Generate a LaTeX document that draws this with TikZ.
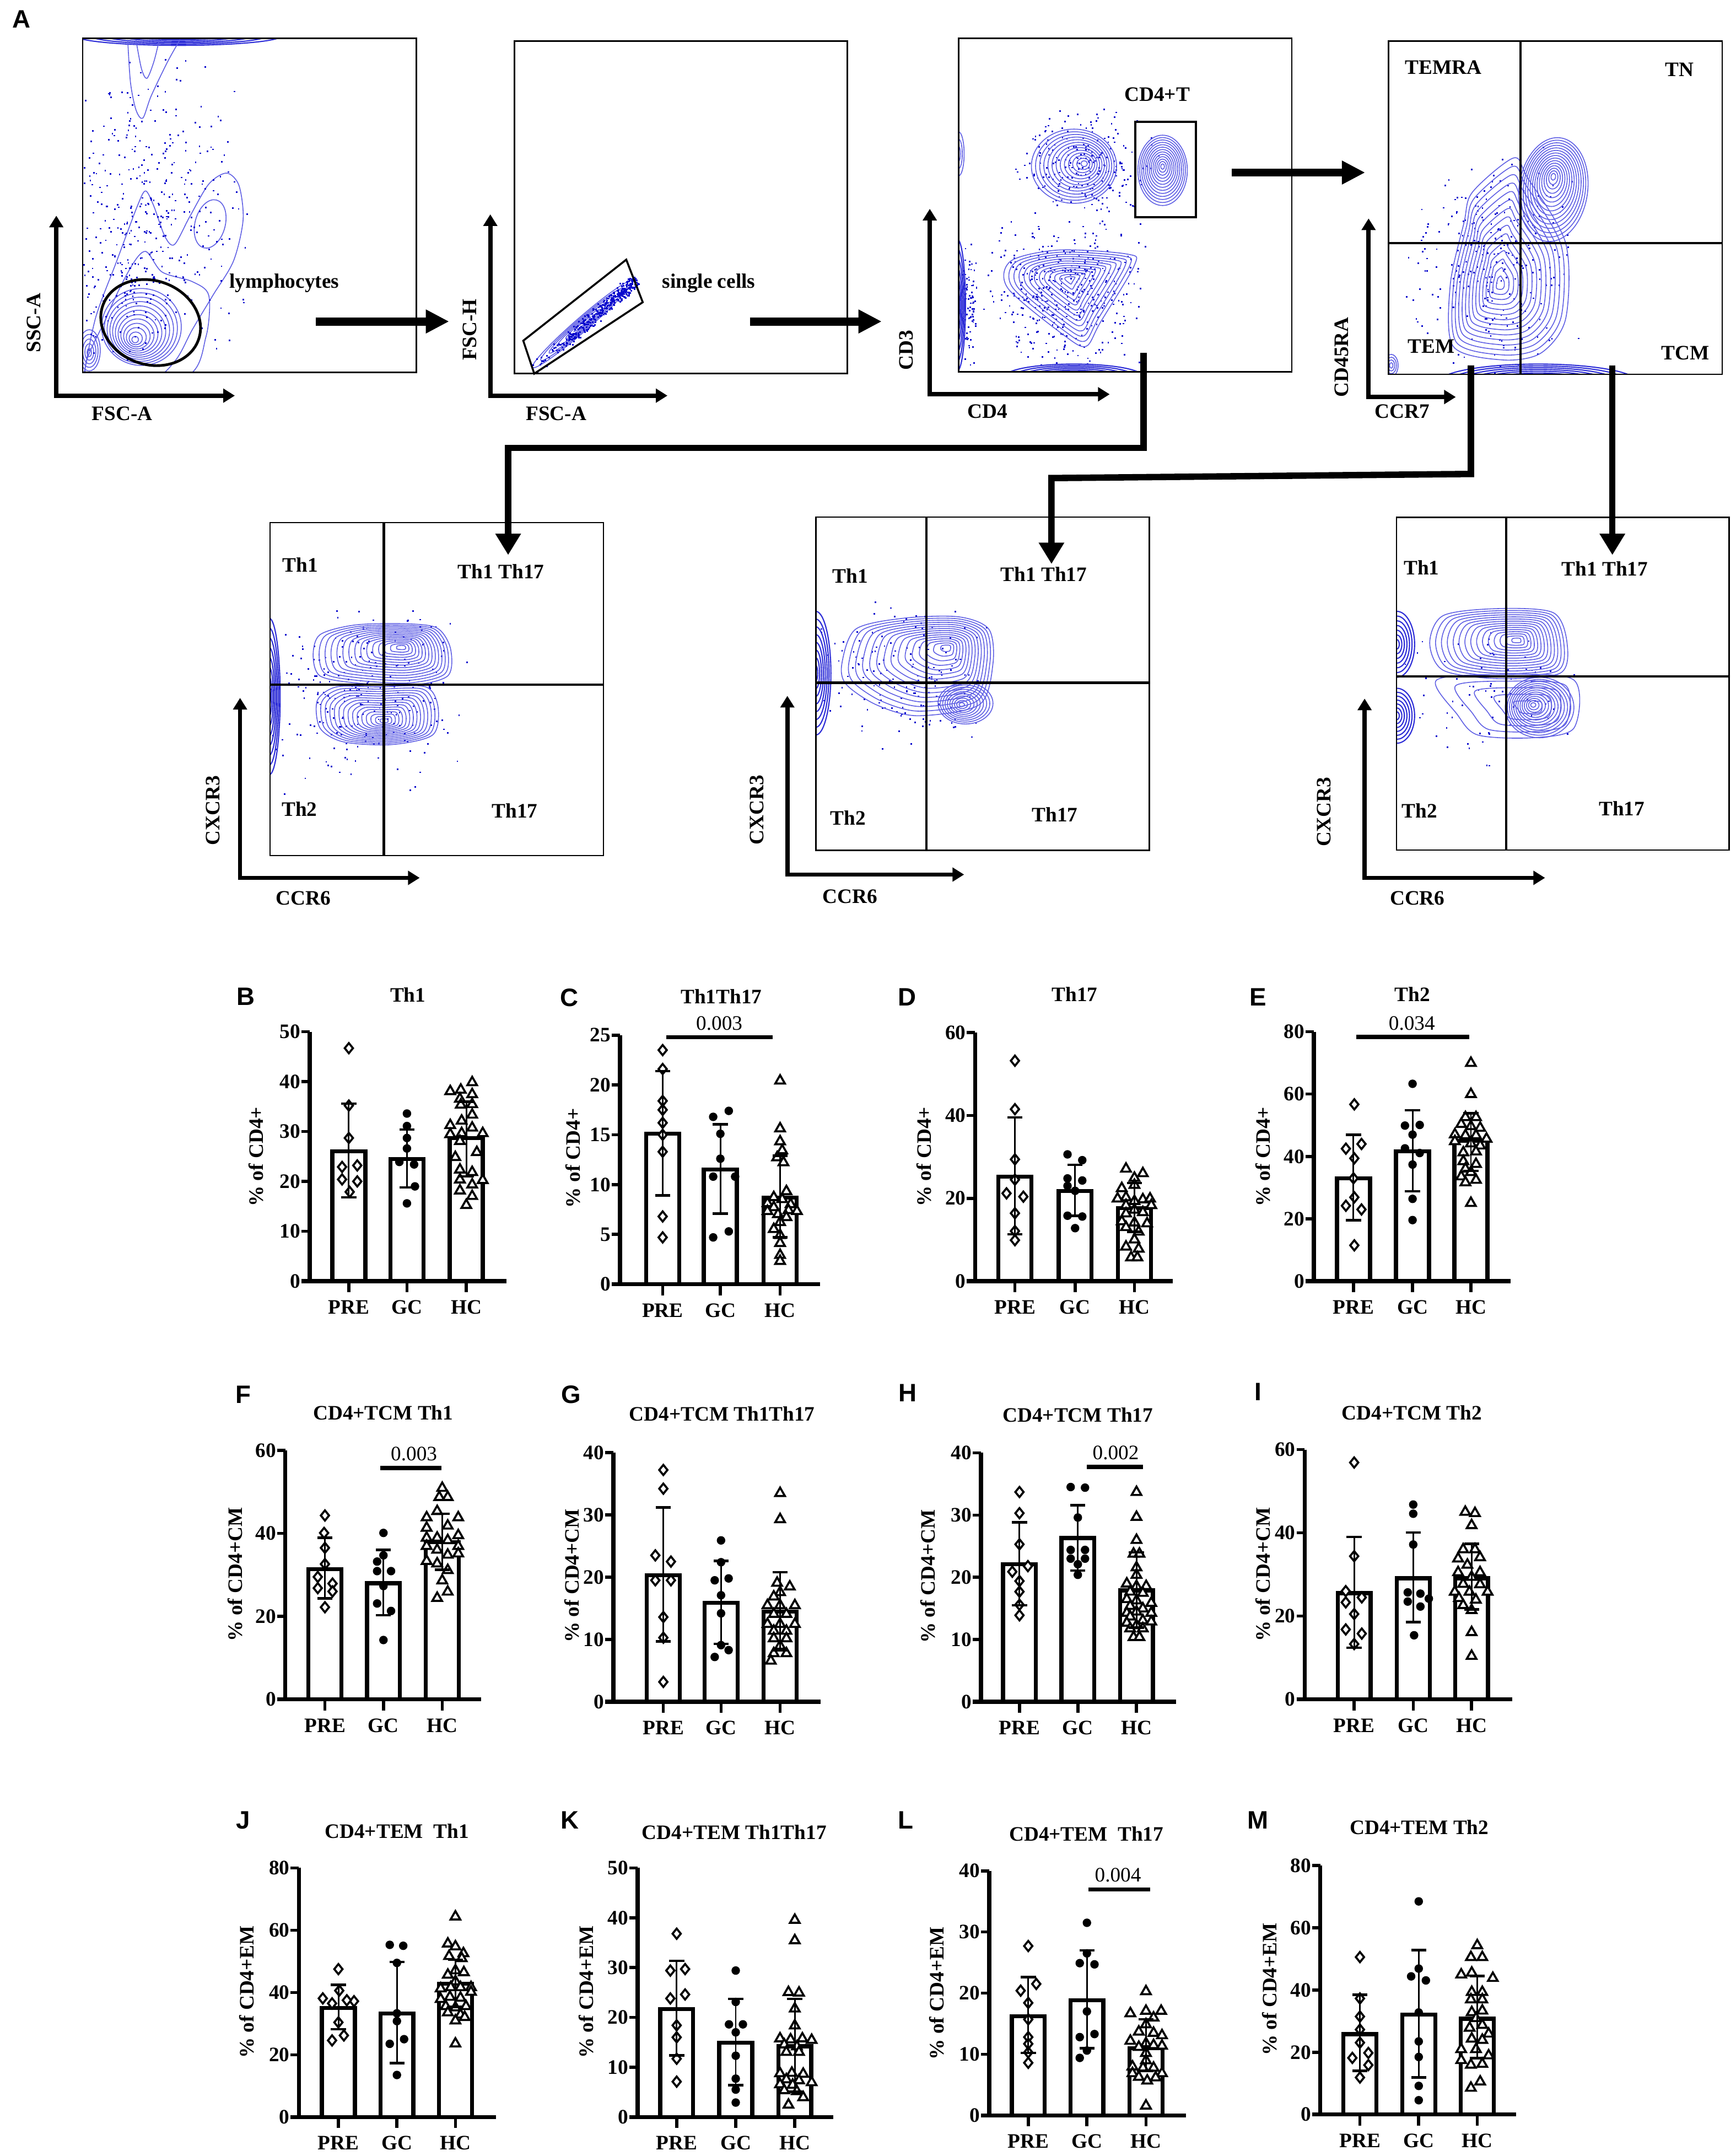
\documentclass[tikz,border=0pt]{standalone}
\usepackage{fontspec}
\setmainfont{Liberation Serif}
\newfontfamily\lsans{Liberation Sans}
\usetikzlibrary{arrows.meta}
\definecolor{cblue}{RGB}{95,95,228}
\definecolor{dblue}{RGB}{45,45,215}
\definecolor{dotc}{RGB}{10,10,205}
\tikzset{
 lab/.style={font=\bfseries\fontsize{10.6}{12}\selectfont, inner sep=0pt},
 pv/.style={font=\fontsize{10.6}{12}\selectfont, inner sep=0pt},
 plet/.style={font=\lsans\bfseries\fontsize{13}{15}\selectfont, inner sep=0pt},
 fbox/.style={draw, line width=0.8pt},
 quad/.style={line width=1.2pt},
 fax/.style={line width=2.2pt, line join=miter, {Triangle[length=6pt,width=7pt]}-{Triangle[length=6pt,width=7pt]}},
 bigarr/.style={line width=4.2pt, -{Triangle[length=12pt,width=11.5pt]}},
 conn/.style={line width=3.3pt, line join=miter, -{Triangle[length=11pt,width=12.5pt]}},
 cline/.style={draw=cblue, line width=0.45pt},
 dline/.style={draw=dblue, line width=0.6pt},
 barst/.style={draw, line width=2.1pt, fill=white},
 baxis/.style={line width=2.1pt},
 btick/.style={line width=1.6pt},
 ebst/.style={line width=0.85pt},
 ecap/.style={line width=1.3pt},
 sig/.style={line width=2.1pt},
 mk/.style={draw, line width=1.05pt, fill=white},
 mdia/.pic={\draw[mk] (0,-3.7) -- (3,0) -- (0,3.7) -- (-3,0) -- cycle;},
 mdot/.pic={\fill (0,0) circle (3.1);},
 mtri/.pic={\draw[mk, line join=miter] (0,-3.5) -- (3.5,2.6) -- (-3.5,2.6) -- cycle;},
}
% contour helpers
\newcommand\rings[8]{%
 \foreach \ri in {0,...,#5}{%
  \pgfmathsetmacro\rf{1-\ri/(#5+1)}%
  \pgfmathsetmacro\rcx{#1+(#7)*(1-\rf)}%
  \pgfmathsetmacro\rcy{#2+(#8)*(1-\rf)}%
  \draw[cline, rotate around={#6:(\rcx,\rcy)}] (\rcx,\rcy) ellipse [x radius={#3*\rf}, y radius={#4*\rf}];
 }}
\newcommand\drings[5]{%
 \foreach \ri in {0,...,#5}{%
  \pgfmathsetmacro\rf{1-\ri/(#5+1)}%
  \draw[dline] (#1,#2) ellipse [x radius={#3*\rf}, y radius={#4*\rf}];
 }}
\newcommand\blob[6]{%
 \foreach \ri in {0,...,#3}{%
  \pgfmathsetmacro\rf{1-\ri/(#3+1)}%
  \pgfmathsetmacro\rcx{#1+(#4)*(1-\rf)}%
  \pgfmathsetmacro\rcy{#2+(#5)*(1-\rf)}%
  \begin{scope}[shift={(\rcx,\rcy)}, scale=\rf]
   \draw[cline] plot[smooth cycle] coordinates {#6};
  \end{scope}}}
\newcommand\scat[6]{%
 \pgfmathsetseed{#6}%
 \foreach \ri in {1,...,#5}{%
  \pgfmathsetmacro\px{#1+(#3)*(rand+rand)/2}%
  \pgfmathsetmacro\py{#2+(#4)*(rand+rand)/2}%
  \fill[dotc] (\px,\py) rectangle ++(1.1,1.1);}}
% bar chart helpers
\newcommand\setpanel[4]{\def\AX{#1}\def\YZ{#2}\pgfmathsetmacro\PPU{(#2-#3)/#4}}
\newcommand\bbar[2]{\draw[barst] ({#1-12},\YZ) rectangle ({#1+12},{\YZ-\PPU*#2});}
\newcommand\errb[3]{%
 \draw[ebst] (#1,{\YZ-\PPU*#2}) -- (#1,{\YZ-\PPU*#3});
 \draw[ecap] ({#1-5.5},{\YZ-\PPU*#2}) -- ({#1+5.5},{\YZ-\PPU*#2});
 \draw[ecap] ({#1-5.5},{\YZ-\PPU*#3}) -- ({#1+5.5},{\YZ-\PPU*#3});}
\newcommand\pts[3]{\foreach \dx/\v in {#3}{\pic at ({#1+0.307*(\dx)},{\YZ-\PPU*\v}) {#2};}}
\newcommand\drawaxes[4]{%
 \draw[baxis] ({\AX-6},\YZ) -- (#4,\YZ);
 \draw[baxis] (\AX,{\YZ-\PPU*#2}) -- (\AX,\YZ);
 \foreach \t in {0,#3,...,#2}{%
  \draw[btick] ({\AX-6},{\YZ-\PPU*\t}) -- (\AX,{\YZ-\PPU*\t});
  \node[lab, anchor=east] (#1t\t) at ({\AX-6.5},{\YZ-\PPU*\t}) {\t};}}
\newcommand\xcat[3]{%
 \draw[btick] (#2,\YZ) -- (#2,{\YZ+8});
 \node[lab] (#1) at (#2,{\YZ+19}) {#3};}
\begin{document}
\begin{tikzpicture}[x=0.024921cm,y=-0.024921cm]
\fill[white] (0,0) rectangle (1264,1569.4);
\useasboundingbox (0,0) rectangle (1264,1569.4);
\node[plet] (A) at (15.6,14) {A};

% ================= Plot 1 =================
\begin{scope}
\clip (60.2,28) rectangle (303,271);
\drings{130}{26}{75}{7}{6}
\draw[cline] plot[smooth] coordinates {(93,29) (95,60) (99,80) (104,86) (110,70) (122,45) (131,29)};
\draw[cline] plot[smooth] coordinates {(99,29) (103,50) (107,57) (112,45) (116,29)};
\draw[cline] plot[smooth cycle] coordinates {(62,268) (70,230) (85,190) (100,150) (106,139) (112,150) (120,172) (127,178) (138,158) (152,134) (165,126) (174,135) (177,160) (170,190) (155,215) (140,240) (128,262) (110,276) (62,276)};
\draw[cline] plot[smooth cycle] coordinates {(64,274) (78,230) (95,195) (106,183) (118,198) (140,205) (152,215) (150,245) (135,274)};
\draw[cline, rotate around={-15:(153,163)}] (153,163) ellipse [x radius=11, y radius=18];
\rings{103}{238}{29}{28}{11}{0}{-5}{10}
\rings{65}{255}{8}{15}{4}{0}{0}{2}
\scat{112}{150}{72}{112}{340}{1}
\scat{92}{205}{40}{60}{110}{2}
\end{scope}
\draw[fbox] (60.2,28) rectangle (303,271);
\draw[line width=1.4pt, rotate around={-20:(109.7,234.8)}] (109.7,234.8) ellipse [x radius=37, y radius=30.5];
\node[lab] (lym) at (207,206) {lymphocytes};
\draw[fax] (41,157) -- (41,288) -- (171,288);
\node[lab, rotate=90] (ssc) at (24.6,235) {SSC-A};
\node[lab] (fsc1) at (89,301) {FSC-A};

% ================= Plot 2 =================
\begin{scope}
\clip (374.5,30) rectangle (617,272);
\rings{424}{236}{48}{5}{5}{41}{0}{0}
\pgfmathsetseed{7}
\foreach \ri in {1,...,380}{%
 \pgfmathsetmacro\bt{sqrt(rnd)}%
 \pgfmathsetmacro\bs{6*(rand+rand)/2}%
 \pgfmathsetmacro\px{388+75*\bt+0.655*\bs}%
 \pgfmathsetmacro\py{268-65*\bt+0.756*\bs}%
 \fill[dotc] (\px,\py) rectangle ++(1.2,1.2);}
\end{scope}
\draw[fbox] (374.5,30) rectangle (617,272);
\draw[line width=1pt] (381,248) -- (456,189) -- (468,220) -- (389,272) -- cycle;
\node[lab] (sgl) at (516,206) {single cells};
\draw[fax] (357,156) -- (357,288) -- (486,288);
\node[lab, rotate=90] (fsch) at (342,240) {FSC-H};
\node[lab] (fsc2) at (405,301) {FSC-A};

% ================= Plot 3 =================
\begin{scope}
\clip (698,28) rectangle (940.6,270.5);
\scat{775}{210}{65}{60}{380}{3}
\scat{790}{120}{55}{45}{220}{4}
\scat{705}{222}{8}{50}{80}{5}
\rings{782}{121}{31}{27}{12}{0}{8}{-2}
\rings{846.5}{124}{18}{25.6}{12}{0}{0}{-3}
\blob{776}{205}{12}{3}{-2}{(-42,5) (-40,-15) (-5,-23) (45,-20) (50,-12) (25,30) (15,47) (0,40)}
\drings{697}{222}{6}{48}{6}
\rings{698}{112}{4}{16}{2}{0}{0}{0}
\drings{782}{274}{50}{9}{7}
\end{scope}
\draw[fbox] (698,28) rectangle (940.6,270.5);
\draw[line width=1pt] (826.6,88.7) rectangle (870.8,158);
\node[lab] (cd4t) at (842.6,68.7) {CD4+T};
\draw[fax] (677,152) -- (677,287) -- (808,287);
\node[lab, rotate=90] (cd3) at (660,255) {CD3};
\node[lab] (cd4) at (719,299.5) {CD4};

% ================= Plot 4 =================
\begin{scope}
\clip (1011,30) rectangle (1254,272.5);
\scat{1085}{190}{65}{90}{250}{6}
\rings{1131}{138}{25}{38}{14}{-8}{0}{-10}
\blob{1094}{207}{14}{-2}{0}{(-36,45) (-38,0) (-28,-45) (-22,-67) (8,-92) (18,-78) (46,-30) (46,25) (28,50) (0,55)}
\drings{1120}{278}{72}{13}{9}
\rings{1013}{266}{5}{8}{3}{0}{0}{0}
\end{scope}
\draw[fbox] (1011,30) rectangle (1254,272.5);
\draw[quad] (1107,30) -- (1107,272.5);
\draw[quad] (1011,177) -- (1254,177);
\node[lab] (temra) at (1051,49) {TEMRA};
\node[lab] (tn) at (1223,50.6) {TN};
\node[lab] (tem) at (1042,252) {TEM};
\node[lab] (tcm) at (1227,257) {TCM};
\draw[fax] (996.5,159) -- (996.5,289) -- (1060,289);
\node[lab, rotate=90] (cd45) at (977,260) {CD45RA};
\node[lab] (ccr7) at (1021,299.5) {CCR7};

% ================= Plot 5 =================
\begin{scope}
\clip (196.6,380.4) rectangle (439.4,622.8);
\scat{265}{505}{80}{75}{250}{8}
\drings{196}{507}{8}{57}{7}
\blob{278}{477}{14}{15}{-6}{(-50,0) (-45,-15) (-20,-22) (15,-23) (40,-20) (50,-5) (48,15) (20,22) (-20,20) (-45,15)}
\blob{275}{520}{14}{5}{5}{(-44,-10) (-30,-20) (0,-20) (35,-20) (44,-5) (40,15) (10,22) (-25,20) (-42,10)}
\end{scope}
\draw[fbox] (196.6,380.4) rectangle (439.4,622.8);
\draw[quad] (279.5,380.4) -- (279.5,622.8);
\draw[quad] (196.6,498.4) -- (439.4,498.4);
\node[lab] (p5a) at (218.7,411) {Th1};
\node[lab] (p5b) at (364.8,416) {Th1 Th17};
\node[lab] (p5c) at (218,588.7) {Th2};
\node[lab] (p5d) at (374.8,590) {Th17};
\draw[fax] (174.8,508) -- (174.8,639) -- (305.6,639);
\node[lab, rotate=90] (p5y) at (155,590) {CXCR3};
\node[lab] (p5x) at (220.7,653.7) {CCR6};

% ================= Plot 6 =================
\begin{scope}
\clip (594,376.4) rectangle (836.7,619);
\scat{655}{495}{70}{60}{150}{9}
\drings{594}{490}{11}{45}{7}
\blob{668}{483}{14}{22}{-12}{(-55,0) (-45,-25) (-10,-33) (30,-34) (52,-25) (55,0) (45,30) (0,38) (-30,30) (-52,15)}
\rings{703}{512}{20}{15}{9}{0}{-3}{1}
\end{scope}
\draw[fbox] (594,376.4) rectangle (836.7,619);
\draw[quad] (674.5,376.4) -- (674.5,619);
\draw[quad] (594,497) -- (836.7,497);
\node[lab] (p6a) at (619,419) {Th1};
\node[lab] (p6b) at (760,418) {Th1 Th17};
\node[lab] (p6c) at (617.4,595.5) {Th2};
\node[lab] (p6d) at (768,593) {Th17};
\draw[fax] (573.3,506.5) -- (573.3,636.6) -- (702,636.6);
\node[lab, rotate=90] (p6y) at (551,589.5) {CXCR3};
\node[lab] (p6x) at (619,652.7) {CCR6};

% ================= Plot 7 =================
\begin{scope}
\clip (1016.8,376.6) rectangle (1259,618.8);
\scat{1085}{500}{70}{60}{70}{10}
\drings{1017}{469}{13}{24}{6}
\drings{1017}{521}{13}{20}{6}
\blob{1091}{468}{14}{14}{-2}{(-50,0) (-40,-20) (0,-25) (40,-22) (50,0) (45,22) (0,26) (-40,20)}
\blob{1096}{515}{4}{20}{0}{(-50,-20) (-35,5) (-20,20) (20,22) (50,15) (50,-20) (0,-24)}
\rings{1121}{515}{25}{22}{12}{0}{-5}{-2}
\end{scope}
\draw[fbox] (1016.8,376.6) rectangle (1259,618.8);
\draw[quad] (1096.7,376.6) -- (1096.7,618.8);
\draw[quad] (1016.8,492.3) -- (1259,492.3);
\node[lab] (p7a) at (1035,413) {Th1};
\node[lab] (p7b) at (1168.5,414) {Th1 Th17};
\node[lab] (p7c) at (1033.7,590) {Th2};
\node[lab] (p7d) at (1180.8,588.6) {Th17};
\draw[fax] (993.6,508.5) -- (993.6,639) -- (1125,639);
\node[lab, rotate=90] (p7y) at (964,591) {CXCR3};
\node[lab] (p7x) at (1032,654) {CCR6};

% ================= arrows and connectors =================
\coordinate (a1s) at (230,234); \coordinate (a1e) at (327,234);
\coordinate (a2s) at (546,234); \coordinate (a2e) at (642,234);
\coordinate (a3s) at (897,125.6); \coordinate (a3e) at (994,125.6);
\draw[bigarr] (a1s) -- (a1e);
\draw[bigarr] (a2s) -- (a2e);
\draw[bigarr] (a3s) -- (a3e);
\coordinate (k1a) at (832.6,257); \coordinate (k1b) at (832.6,326);
\coordinate (k1c) at (370,326); \coordinate (k1d) at (370,404);
\draw[conn] (k1a) -- (k1b) -- (k1c) -- (k1d);
\coordinate (k2a) at (1071,266); \coordinate (k2b) at (1071,345);
\coordinate (k2c) at (765.6,348); \coordinate (k2d) at (765.6,410.5);
\draw[conn] (k2a) -- (k2b) -- (k2c) -- (k2d);
\coordinate (k3a) at (1174,266); \coordinate (k3b) at (1174,404);
\draw[conn] (k3a) -- (k3b);

% ================= B =================
\setpanel{225.5}{932.6}{751}{50}
\bbar{254}{26.0}\bbar{296.3}{24.45}\bbar{339.5}{28.7}
\pts{254}{mdia}{0/46.7,0/35.2,0/28.7,-16/22.9,20/23.2,-16/20.4,20/20.0,2/17.9}
\pts{296.3}{mdot}{0/33.6,0/31.1,0/28.7,0/26.6,-18/23.9,17/23.4,19/19.0,0/15.6}
\pts{339.5}{mtri}{-38/38.2,-13/38.5,14/40.0,-15/36.7,14/37.6,-13/35.5,14/35.6,-11/32.3,-38/31.4,14/33.5,-38/29.6,-11/29.8,39/29.8,14/30.9,-15/28.2,-26/25.0,25/26.0,-15/22.5,14/22.0,-15/20.5,39/20.4,14/19.5,-15/18.3,14/17.2,0/15.4}
\errb{254}{16.8}{35.6}\errb{296.3}{18.8}{30.4}\errb{339.5}{21.0}{36.0}
\drawaxes{B}{50}{10}{368.8}
\xcat{BPRE}{254}{PRE}\xcat{BGC}{296.3}{GC}\xcat{BHC}{339.5}{HC}
\node[plet] (Bl) at (179,725.5) {B};
\node[lab] (Bti) at (297,724) {Th1};
\node[lab, rotate=90] (By) at (186.6,842) {\% of CD4+};

% ================= C =================
\setpanel{451.4}{934.8}{753.5}{25}
\bbar{482.5}{15.1}\bbar{524.5}{11.5}\bbar{568}{8.7}
\pts{482.5}{mdia}{0/23.5,0/21.6,0/18.4,0/17.5,0/16.2,0/15.0,0/13.3,0/6.8,0/4.7}
\pts{524.5}{mdot}{-17/16.8,20/17.4,0/15.1,0/12.6,-17/10.8,35/10.8,-17/4.7,20/5.3}
\pts{568}{mtri}{0/20.5,0/15.7,0/14.4,5/13.5,-7/12.8,8/12.3,15/9.4,-15/8.8,5/8.6,-30/8.2,25/8.1,-15/7.8,20/7.5,-30/7.4,40/7.4,-5/7.1,15/6.8,0/6.3,-15/5.6,0/5.0,0/4.2,0/3.0,0/2.4}
\errb{482.5}{8.9}{21.4}\errb{524.5}{7.1}{16.05}\errb{568}{4.7}{12.9}
\drawaxes{C}{25}{5}{597}
\xcat{CPRE}{482.5}{PRE}\xcat{CGC}{524.5}{GC}\xcat{CHC}{568}{HC}
\draw[sig] (485,755.1) -- (562.6,755.1);
\node[pv] (Cp) at (523.7,745) {0.003};
\node[plet] (Cl) at (414.7,726.3) {C};
\node[lab] (Cti) at (525.2,725.5) {Th1Th17};
\node[lab, rotate=90] (Cy) at (417,843) {\% of CD4+};

% ================= D =================
\setpanel{710}{932.6}{751.6}{60}
\bbar{739}{25.2}\bbar{782.8}{21.8}\bbar{826}{17.6}
\pts{739}{mdia}{0/53.2,0/41.5,0/29.4,0/24.5,-20/21.2,20/20.4,0/16.4,0/12.1,0/9.9}
\pts{782.8}{mdot}{-18/30.6,17/29.2,-18/24.8,17/24.3,-18/23.0,0/21.8,-18/15.8,17/15.6,0/12.8}
\pts{826}{mtri}{-20/27.3,20/26.2,0/25.1,0/23.4,-30/22.6,-20/20.4,20/19.9,-40/20.1,37/20.1,0/19.5,-20/18.5,40/18.5,0/17.4,20/16.8,-20/16.5,-30/14.6,0/14.3,30/14.1,-20/13.2,10/12.1,0/10.2,-20/8.5,10/8.0,-8/5.9,7/5.9}
\errb{739}{11.3}{39.5}\errb{782.8}{15.8}{28.1}\errb{826}{11.9}{23.7}
\drawaxes{D}{60}{20}{854}
\xcat{DPRE}{739}{PRE}\xcat{DGC}{782.8}{GC}\xcat{DHC}{826}{HC}
\node[plet] (Dl) at (660.5,726) {D};
\node[lab] (Dti) at (782.5,723.8) {Th17};
\node[lab, rotate=90] (Dy) at (672.7,842) {\% of CD4+};

% ================= E =================
\setpanel{956.7}{932.6}{751}{80}
\bbar{985.5}{33.0}\bbar{1028.5}{41.6}\bbar{1071}{45.0}
\pts{985.5}{mdia}{2/56.7,-18/42.5,19/44.0,2/39.4,0/33.0,2/26.9,-18/24.2,19/23.0,2/11.5}
\pts{1028.5}{mdot}{0/63.3,-18/49.9,17/50.1,0/47.0,-18/42.6,17/41.1,0/37.4,0/26.4,0/19.6}
\pts{1071}{mtri}{0/70.2,0/60.2,-13/52.8,12/52.8,-23/50.6,0/49.9,22/49.4,-38/47.3,-13/47.0,12/47.0,37/45.9,-38/45.1,0/44.4,22/43.7,-18/41.5,12/41.8,-18/38.7,12/37.8,-13/36.3,0/35.2,-23/33.8,12/32.7,-13/31.9,0/25.3}
\errb{985.5}{19.6}{47.0}\errb{1028.5}{28.8}{54.8}\errb{1071}{35.4}{53.8}
\drawaxes{E}{80}{20}{1100}
\xcat{EPRE}{985.5}{PRE}\xcat{EGC}{1028.5}{GC}\xcat{EHC}{1071}{HC}
\draw[sig] (987.6,754.8) -- (1069.6,754.8);
\node[pv] (Ep) at (1028,745) {0.034};
\node[plet] (El) at (916,726) {E};
\node[lab] (Eti) at (1028.5,723.8) {Th2};
\node[lab, rotate=90] (Ey) at (919.7,842) {\% of CD4+};

% ================= F =================
\setpanel{207.7}{1237}{1055.7}{60}
\bbar{236.6}{31.4}\bbar{279.2}{28.0}\bbar{322}{37.9}
\pts{236.6}{mdia}{0/44.3,-2/40.1,0/36.5,0/32.6,-17/29.5,18/27.9,-17/26.8,18/26.0,0/22.2}
\pts{279.2}{mdot}{0/40.1,0/34.7,-15/33.2,-15/30.9,18/30.9,0/27.3,-15/23.1,18/21.3,0/14.3}
\pts{322}{mtri}{0/51.1,-7/48.9,13/48.9,-12/45.5,-37/44.0,38/44.0,-37/41.5,-12/39.1,38/39.7,-37/39.1,13/38.5,38/37.1,-37/37.1,-12/36.2,13/35.0,38/35.3,-37/33.5,-12/32.9,13/31.3,0/28.8,13/26.1,-12/24.6,13/42.0}
\errb{236.6}{24.3}{38.95}\errb{279.2}{20.3}{36.0}\errb{322}{31.2}{44.7}
\drawaxes{F}{60}{20}{350.5}
\xcat{FPRE}{236.6}{PRE}\xcat{FGC}{279.2}{GC}\xcat{FHC}{322}{HC}
\draw[sig] (277,1068.6) -- (321.5,1068.6);
\node[pv] (Fp) at (301.4,1058.5) {0.003};
\node[plet] (Fl) at (177,1015) {F};
\node[lab] (Fti) at (279,1028.3) {CD4+TCM Th1};
\node[lab, rotate=90] (Fy) at (171,1146) {\% of CD4+CM};

% ================= G =================
\setpanel{446.6}{1238.8}{1057.3}{40}
\bbar{483}{20.3}\bbar{525}{15.9}\bbar{568}{14.5}
\pts{483}{mdia}{0/37.2,0/34.2,-19/23.5,18/22.5,-19/19.5,18/19.5,0/13.6,0/10.3,0/3.2}
\pts{525}{mdot}{0/25.9,0/22.4,-15/19.5,18/19.8,0/17.1,0/14.2,0/9.1,18/8.3,-15/7.2}
\pts{568}{mtri}{0/33.6,0/29.4,-7/19.2,23/18.6,0/17.7,-15/17.0,-30/15.6,0/15.6,35/15.6,-15/14.2,15/14.2,-30/12.6,0/12.6,35/12.6,-15/11.5,15/11.5,-15/10.3,15/10.3,0/9.1,-15/7.9,15/7.9,-22/6.7}
\errb{483}{9.7}{31.2}\errb{525}{9.3}{22.6}\errb{568}{8.3}{20.8}
\drawaxes{G}{40}{10}{597.5}
\xcat{GPRE}{483}{PRE}\xcat{GGC}{525}{GC}\xcat{GHC}{568}{HC}
\node[plet] (Gl) at (415.8,1015) {G};
\node[lab] (Gti) at (525.7,1029.3) {CD4+TCM Th1Th17};
\node[lab, rotate=90] (Gy) at (416.5,1147) {\% of CD4+CM};

% ================= H =================
\setpanel{714.2}{1238.8}{1057.5}{40}
\bbar{742.3}{22.1}\bbar{784.8}{26.3}\bbar{827.5}{17.9}
\pts{742.3}{mdia}{0/33.7,0/30.3,0/25.3,-17/20.9,20/21.8,0/19.4,0/17.7,0/15.6,0/13.9}
\pts{784.8}{mdot}{-17/34.5,17/34.4,0/29.6,-17/24.4,17/24.4,-17/23.0,17/23.0,0/22.1,0/20.4}
\pts{827.5}{mtri}{0/33.8,0/29.8,0/26.1,-7/23.9,7/23.9,0/21.7,0/20.5,-23/19.1,0/18.7,23/18.7,-15/17.8,15/17.6,-23/16.6,0/16.4,35/16.0,-15/15.5,15/15.1,-23/14.4,0/14.6,35/14.4,-15/13.8,15/13.2,35/13.0,-23/12.8,0/12.4,-15/11.9,15/11.9,-7/10.5,7/10.5}
\errb{742.3}{15.5}{28.85}\errb{784.8}{21.1}{31.6}\errb{827.5}{11.9}{24.0}
\drawaxes{H}{40}{10}{856.4}
\xcat{HPRE}{742.3}{PRE}\xcat{HGC}{784.8}{GC}\xcat{HHC}{827.5}{HC}
\draw[sig] (791.5,1067.8) -- (832.3,1067.8);
\node[pv] (Hp) at (812.4,1057.5) {0.002};
\node[plet] (Hl) at (661,1014) {H};
\node[lab] (Hti) at (784.8,1030) {CD4+TCM Th17};
\node[lab, rotate=90] (Hy) at (675.7,1147.5) {\% of CD4+CM};

% ================= I =================
\setpanel{950}{1237}{1055.2}{60}
\bbar{986}{25.5}\bbar{1029}{29.1}\bbar{1071.5}{29.1}
\pts{986}{mdia}{0/56.9,0/34.4,-20/26.0,18/24.5,-20/23.3,0/20.5,-20/16.8,18/15.8,0/13.3}
\pts{1029}{mdot}{0/46.8,0/44.6,0/37.2,-13/25.7,17/25.4,37/24.2,-13/23.5,17/22.3,2/15.4}
\pts{1071.5}{mtri}{-15/45.2,8/44.9,0/42.0,-20/36.2,8/36.2,-32/34.0,20/34.3,-10/32.5,-32/30.7,20/30.7,0/29.6,-20/27.9,20/27.8,-40/26.0,-5/26.0,38/26.0,-30/24.5,10/24.1,-20/22.8,0/21.6,0/16.3,0/10.6}
\errb{986}{12.4}{39.0}\errb{1029}{18.6}{40.1}\errb{1071.5}{21.6}{37.4}
\drawaxes{I}{60}{20}{1101}
\xcat{IPRE}{986}{PRE}\xcat{IGC}{1029}{GC}\xcat{IHC}{1071.5}{HC}
\node[plet] (Il) at (916,1013) {I};
\node[lab] (Iti) at (1028,1028.3) {CD4+TCM Th2};
\node[lab, rotate=90] (Iy) at (919.7,1146) {\% of CD4+CM};

% ================= J =================
\setpanel{217.6}{1541}{1359.7}{80}
\bbar{246.4}{35.0}\bbar{289}{33.3}\bbar{331.6}{42.8}
\pts{246.4}{mdia}{0/47.5,-37/38.1,2/40.6,37/37.2,-15/36.5,20/37.5,0/30.4,-15/24.6,13/26.2}
\pts{289}{mdot}{-17/55.3,15/55.0,0/49.5,0/33.3,0/30.8,-17/23.5,17/25.0,0/13.5}
\pts{331.6}{mtri}{0/64.6,-18/55.9,0/55.0,19/52.8,-15/51.9,15/51.2,0/47.3,-18/45.9,20/46.7,0/43.8,-35/41.5,-11/41.9,12/41.9,37/41.9,-35/38.1,-13/38.8,12/38.5,37/40.4,-23/35.8,0/35.4,25/35.8,-18/33.8,12/33.1,22/32.3,0/31.2,0/23.8}
\errb{246.4}{28.2}{42.5}\errb{289}{17.3}{49.8}\errb{331.6}{35.4}{50.5}
\drawaxes{J}{80}{20}{361}
\xcat{JPRE}{246.4}{PRE}\xcat{JGC}{289}{GC}\xcat{JHC}{331.6}{HC}
\node[plet] (Jl) at (177,1325) {J};
\node[lab] (Jti) at (289,1333) {CD4+TEM\ \ Th1};
\node[lab, rotate=90] (Jy) at (179.5,1450) {\% of CD4+EM};

% ================= K =================
\setpanel{464.3}{1541}{1359.7}{50}
\bbar{492.7}{21.7}\bbar{535.7}{14.9}\bbar{578.7}{14.2}
\pts{492.7}{mdia}{0/36.8,-15/29.4,20/29.7,-15/23.8,20/24.6,0/18.4,0/16.0,0/11.7,0/7.1}
\pts{535.7}{mdot}{0/29.4,0/23.1,-16/18.6,17/18.6,0/17.0,0/12.3,0/7.7,0/5.5,0/2.9}
\pts{578.7}{mtri}{0/39.7,0/35.6,-15/25.2,10/25.1,0/21.9,0/18.5,-35/15.9,-10/15.7,18/15.9,40/15.6,-25/14.7,5/14.3,-20/13.2,10/13.2,-35/8.9,-7/9.0,20/8.8,-20/7.7,10/7.5,40/7.1,-35/6.7,-5/6.6,-25/5.5,5/5.3,20/4.1,-15/2.6}
\errb{492.7}{12.4}{31.35}\errb{535.7}{6.4}{23.7}\errb{578.7}{5.05}{23.7}
\drawaxes{K}{50}{10}{606.7}
\xcat{KPRE}{492.7}{PRE}\xcat{KGC}{535.7}{GC}\xcat{KHC}{578.7}{HC}
\node[plet] (Kl) at (415,1325) {K};
\node[lab] (Kti) at (534.6,1333.6) {CD4+TEM Th1Th17};
\node[lab, rotate=90] (Ky) at (427,1450) {\% of CD4+EM};

% ================= L =================
\setpanel{720.3}{1539.8}{1361.8}{40}
\bbar{748.7}{16.2}\bbar{791.4}{18.8}\bbar{834.4}{11.0}
\pts{748.7}{mdia}{0/27.7,-18/20.4,19/21.5,0/18.4,0/15.7,0/12.8,0/11.7,0/10.3,0/8.6}
\pts{791.4}{mdot}{0/31.5,0/26.5,-17/24.9,18/24.7,0/17.0,-17/12.8,18/13.3,0/10.6,-17/9.4}
\pts{834.4}{mtri}{0/20.4,-37/16.8,0/17.2,36/17.2,18/16.1,0/15.0,-17/13.8,18/13.6,38/13.2,-37/12.3,0/11.9,-17/11.3,18/11.6,38/11.5,0/10.3,0/9.1,-32/8.1,-7/7.9,18/7.9,38/7.0,-32/7.0,-17/6.4,3/5.8,23/6.3,0/1.7}
\errb{748.7}{10.2}{22.6}\errb{791.4}{11.0}{27.0}\errb{834.4}{7.3}{15.7}
\drawaxes{L}{40}{10}{863.6}
\xcat{LPRE}{748.7}{PRE}\xcat{LGC}{791.4}{GC}\xcat{LHC}{834.4}{HC}
\draw[sig] (792.5,1375.4) -- (837.5,1375.4);
\node[pv] (Lp) at (814,1365) {0.004};
\node[plet] (Ll) at (659.5,1325) {L};
\node[lab] (Lti) at (791,1334.8) {CD4+TEM\ \ Th17};
\node[lab, rotate=90] (Ly) at (682,1451) {\% of CD4+EM};

% ================= M =================
\setpanel{961.3}{1539.2}{1358}{80}
\bbar{990.2}{25.8}\bbar{1033}{32.1}\bbar{1075.6}{30.8}
\pts{990.2}{mdia}{0/50.6,0/37.3,0/31.5,0/27.3,0/23.1,20/19.8,-18/18.2,20/15.9,0/11.9}
\pts{1033}{mdot}{0/68.5,0/46.9,-18/44.4,17/43.1,0/32.8,0/23.5,0/18.5,0/9.2,0/4.6}
\pts{1075.6}{mtri}{0/54.6,-15/50.8,12/50.8,-38/45.2,-13/45.8,37/44.1,-13/39.6,12/39.6,12/37.2,-15/37.2,12/33.6,-13/33.1,-3/31.2,12/29.0,-18/28.1,27/26.2,-13/24.6,12/24.2,-38/21.2,-3/21.2,27/19.2,-38/17.7,-15/16.2,12/16.5,7/10.8,-15/8.8}
\errb{990.2}{14.0}{38.5}\errb{1033}{11.9}{52.8}\errb{1075.6}{18.1}{44.5}
\drawaxes{M}{80}{20}{1104}
\xcat{MPRE}{990.2}{PRE}\xcat{MGC}{1033}{GC}\xcat{MHC}{1075.6}{HC}
\node[plet] (Ml) at (916,1325) {M};
\node[lab] (Mti) at (1033.4,1330) {CD4+TEM Th2};
\node[lab, rotate=90] (My) at (924.5,1448) {\% of CD4+EM};
\end{tikzpicture}
\end{document}
